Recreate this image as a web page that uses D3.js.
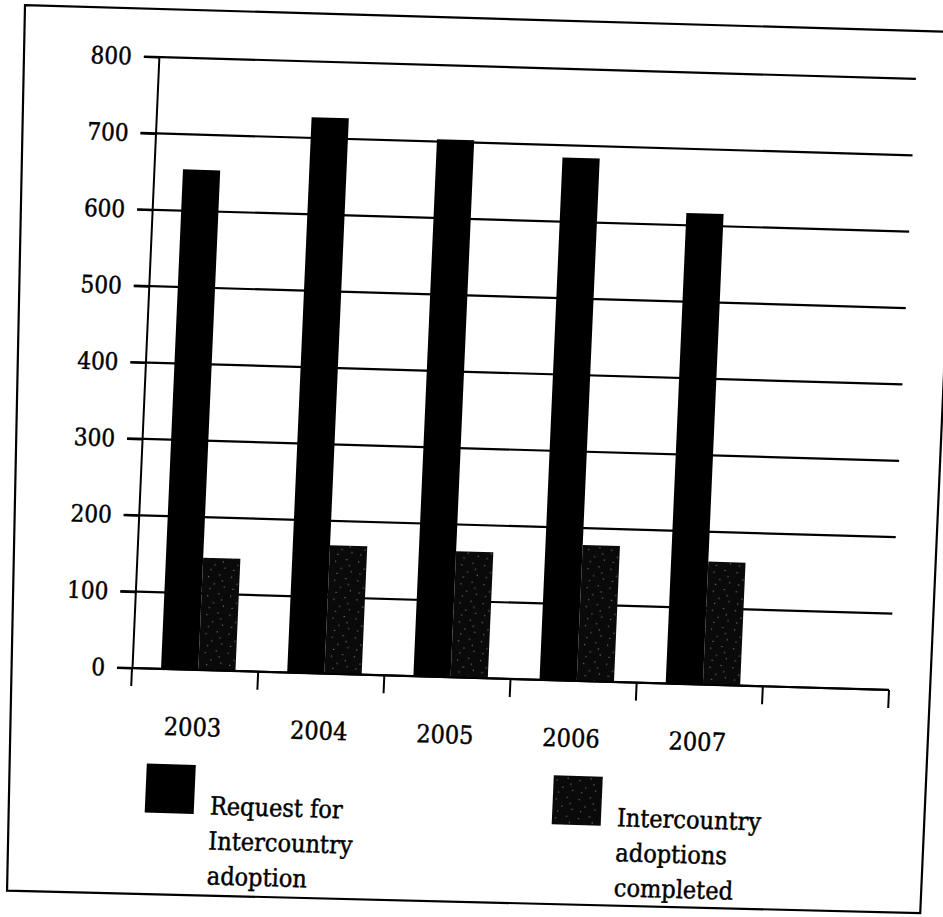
<!DOCTYPE html>
<html>
<head>
<meta charset="utf-8">
<script src="https://cdn.jsdelivr.net/npm/d3@7"></script>
<style>
  html, body { margin: 0; padding: 0; background: #fff; }
  svg { display: block; }
  text { font-family: "DejaVu Serif Condensed", "DejaVu Serif", serif; font-stretch: condensed; fill: #000; stroke: #000; stroke-width: 0.45px; }
</style>
</head>
<body>
<svg id="chart" width="943" height="917"></svg>
<script>
// Intercountry adoption, 2003-2007 (the sixth slot is an empty row in the sheet)
const categories = ["2003", "2004", "2005", "2006", "2007", ""];
const requestValues = [654, 727, 703, 684, 616];
const completedValues = [147, 168, 165, 178, 161];
const seriesKeys = ["request", "completed"];
const legendLines = [
  ["Request for", "Intercountry", "adoption"],
  ["Intercountry", "adoptions", "completed"]
];
const yTicks = [0, 100, 200, 300, 400, 500, 600, 700, 800];

const svg = d3.select("#chart");
const defs = svg.append("defs");

// speckled near-black fill for the "completed" series
const pat = defs.append("pattern")
  .attr("id", "speckle").attr("patternUnits", "userSpaceOnUse")
  .attr("width", 23).attr("height", 19);
pat.append("rect").attr("width", 23).attr("height", 19).attr("fill", "#0a0a0a");
[[3, 4], [14, 2], [9, 11], [19, 14], [5, 16], [17, 8]].forEach(([px, py]) =>
  pat.append("rect").attr("x", px).attr("y", py).attr("width", 1).attr("height", 1).attr("fill", "#9a9a9a"));

// the printed sheet sits slightly askew
const origin = { x: 132, y: 668 };
const skewX = -0.044, skewY = 0.029;
const sheet = svg.append("g")
  .attr("transform", `matrix(1,${skewY},${skewX},1,${-skewX * origin.y},${-skewY * origin.x})`);

const W = 757, H = 611;
const plot = sheet.append("g").attr("transform", `translate(${origin.x},${origin.y - H})`);

const y = d3.scaleLinear().domain([0, 800]).range([H, 0]);
const x0 = d3.scaleBand().domain(categories).range([0, W]);
const bw = x0.bandwidth();
const x1 = d3.scaleBand().domain(seriesKeys).range([bw * 0.23, bw * 0.82]);

// horizontal gridlines (each starts at its tick mark)
plot.append("g").selectAll("line").data(yTicks).join("line")
  .attr("x1", -15).attr("x2", W)
  .attr("y1", d => y(d)).attr("y2", d => y(d))
  .attr("stroke", "#000").attr("stroke-width", 2.2);

// bars
const rows = categories.slice(0, requestValues.length).map((c, i) => ({
  cat: c, request: requestValues[i], completed: completedValues[i]
}));
const groups = plot.append("g").selectAll("g").data(rows).join("g")
  .attr("transform", d => `translate(${x0(d.cat)},0)`);
groups.selectAll("rect").data(d => seriesKeys.map(k => ({ key: k, value: d[k] }))).join("rect")
  .attr("x", d => x1(d.key))
  .attr("width", x1.bandwidth())
  .attr("y", d => y(d.value))
  .attr("height", d => H - y(d.value))
  .attr("fill", d => d.key === "request" ? "#000" : "url(#speckle)");

// y axis
const yAxis = plot.append("g")
  .call(d3.axisLeft(y).tickValues(yTicks).tickSize(15).tickSizeOuter(0).tickPadding(12));
yAxis.selectAll("path, line").attr("stroke", "#000").attr("stroke-width", 2);
yAxis.selectAll("text").attr("font-size", 24).attr("fill", "#000")
  .style("font-family", "'DejaVu Serif Condensed','DejaVu Serif',serif");

// x axis: baseline, ticks at category boundaries, labels centred in each band
const xAxis = plot.append("g").attr("transform", `translate(0,${H})`);
xAxis.append("line").attr("x1", 0).attr("x2", W).attr("stroke", "#000").attr("stroke-width", 2);
const bounds = categories.map(c => x0(c)).concat([W]);
xAxis.selectAll("line.tick").data(bounds).join("line").attr("class", "tick")
  .attr("x1", d => d).attr("x2", d => d).attr("y1", 0).attr("y2", 18)
  .attr("stroke", "#000").attr("stroke-width", 2);
xAxis.selectAll("text").data(categories.filter(c => c !== "")).join("text")
  .attr("x", d => x0(d) + bw / 2).attr("y", 66)
  .attr("text-anchor", "middle").attr("font-size", 25)
  .text(d => d);

// legend
const legendX = [19, 426];
const legend = plot.append("g").attr("transform", `translate(0,${H + 95})`);
seriesKeys.forEach((k, i) => {
  const item = legend.append("g").attr("transform", `translate(${legendX[i]},0)`);
  item.append("rect").attr("width", 49).attr("height", 49)
    .attr("fill", k === "request" ? "#000" : "url(#speckle)");
  item.selectAll("text").data(legendLines[i]).join("text")
    .attr("x", 65).attr("y", (d, j) => 49 + j * 35)
    .attr("font-size", 25)
    .text(d => d);
});

// outer frame of the chart area (the page edge bows a little on the left)
const frameCorners = [[-4, 9], [930, 9], [930, 890], [17, 894]];
sheet.append("path")
  .attr("d", d3.line()(frameCorners) + "Z")
  .attr("fill", "none").attr("stroke", "#000").attr("stroke-width", 2.2);
</script>
</body>
</html>
